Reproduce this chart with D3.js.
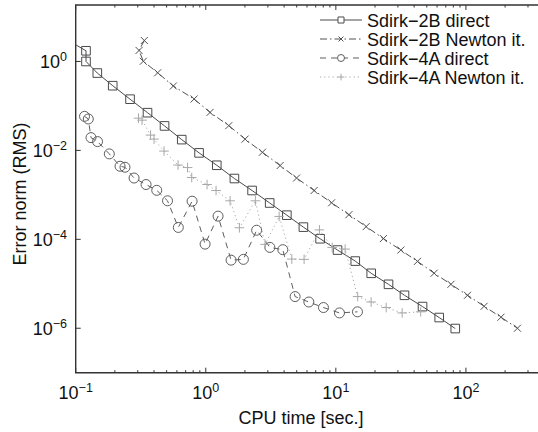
<!DOCTYPE html>
<html>
<head>
<meta charset="utf-8">
<script src="https://cdn.jsdelivr.net/npm/d3@7"></script>
<style>
  body { margin: 0; background: #fff; }
  svg { display: block; font-family: "Liberation Sans", Arial, sans-serif; }
</style>
</head>
<body>
<svg class="chart"></svg>
<script>
// CPU time [sec.] against RMS error norm for the four solver variants
var sdirk2bDirectTime = [0.08, 0.120, 0.120, 0.1466, 0.1926, 0.2617, 0.3566, 0.482, 0.6535, 0.888, 1.215, 1.66, 2.27, 3.10, 4.20, 5.63, 7.57, 10.3, 14.1, 18.7, 25.4, 33.7, 46.4, 62.3, 82.8];
var sdirk2bDirectErr = [3.46, 1.74, 1.0, 0.549, 0.285, 0.1418, 0.0705, 0.0355, 0.01747, 0.00879, 0.00463, 0.00233, 0.001253, 6.56e-4, 3.49e-4, 1.88e-4, 1.03e-4, 5.73e-5, 3.24e-5, 1.72e-5, 9.72e-6, 5.51e-6, 3.07e-6, 1.74e-6, 9.84e-7];

var sdirk2bNewtonTime = [0.337, 0.307, 0.331, 0.427, 0.563, 0.813, 1.079, 1.503, 2.006, 2.725, 3.73, 4.99, 6.81, 9.28, 12.6, 17.1, 23.2, 31.6, 42.4, 57.0, 76.7, 102.8, 138, 186, 249];
var sdirk2bNewtonErr = [2.96, 1.77, 1.01, 0.557, 0.2805, 0.1432, 0.0716, 0.0360, 0.01794, 0.00906, 0.00456, 0.00239, 0.001253, 6.63e-4, 3.58e-4, 1.93e-4, 1.04e-4, 5.73e-5, 3.19e-5, 1.73e-5, 9.72e-6, 5.51e-6, 3.12e-6, 1.77e-6, 1.0e-6];

var sdirk4aDirectTime = [0.1169, 0.125, 0.1311, 0.1472, 0.1813, 0.2192, 0.2393, 0.281, 0.3474, 0.4198, 0.508, 0.615, 0.785, 0.988, 1.243, 1.565, 1.946, 2.46, 3.11, 3.91, 4.86, 6.20, 8.03, 10.66, 14.66];
var sdirk4aDirectErr = [0.0583, 0.0509, 0.01937, 0.01577, 0.00834, 0.00440, 0.00418, 0.00239, 0.001707, 0.001265, 7.35e-4, 1.85e-4, 7.20e-4, 7.80e-5, 3.32e-4, 3.40e-5, 3.54e-5, 1.60e-4, 6.58e-5, 5.85e-5, 5.15e-6, 3.89e-6, 2.92e-6, 2.21e-6, 2.34e-6];

var sdirk4aNewtonTime = [0.3041, 0.3236, 0.3762, 0.4002, 0.4777, 0.612, 0.7244, 0.78, 1.023, 1.2, 1.538, 1.814, 2.407, 2.858, 3.664, 4.586, 5.70, 7.48, 9.37, 11.79, 14.72, 18.68, 24.38, 32.36, 44.9];
var sdirk4aNewtonErr = [0.0531, 0.0479, 0.02206, 0.01794, 0.00965, 0.00468, 0.00411, 0.00245, 0.001707, 0.001253, 7.35e-4, 1.82e-4, 7.35e-4, 7.69e-5, 3.27e-4, 3.59e-5, 3.54e-5, 1.63e-4, 6.58e-5, 6.03e-5, 5.15e-6, 3.89e-6, 2.92e-6, 2.21e-6, 2.34e-6];

var seriesNames = ["Sdirk\u22122B direct", "Sdirk\u22122B Newton it.", "Sdirk\u22124A direct", "Sdirk\u22124A Newton it."];
var xTickExponents = [-1, 0, 1, 2];
var yTickExponents = [0, -2, -4, -6];

var width = 538, height = 432;
var plot = { left: 75.7, right: 596, top: 5, bottom: 372.7 };

var series = [
  { name: seriesNames[0], time: sdirk2bDirectTime, err: sdirk2bDirectErr, marker: "square", color: "#4a4a4a", dash: null },
  { name: seriesNames[1], time: sdirk2bNewtonTime, err: sdirk2bNewtonErr, marker: "cross", color: "#505050", dash: "7,3,1.5,3" },
  { name: seriesNames[2], time: sdirk4aDirectTime, err: sdirk4aDirectErr, marker: "circle", color: "#5e5e5e", dash: "6,5" },
  { name: seriesNames[3], time: sdirk4aNewtonTime, err: sdirk4aNewtonErr, marker: "plus", color: "#a8a8a8", dash: "1.2,3" }
];

var x = d3.scaleLog().domain([0.1, 1000]).range([plot.left, plot.right]);
var y = d3.scaleLog().domain([1e-7, Math.pow(10, 1.27)]).range([plot.bottom, plot.top]);

function markerPath(type, s) {
  switch (type) {
    case "square": return "M" + (-s) + "," + (-s) + "h" + (2 * s) + "v" + (2 * s) + "h" + (-2 * s) + "Z";
    case "circle": return "M" + s + ",0A" + s + "," + s + " 0 1,1 " + (-s) + ",0A" + s + "," + s + " 0 1,1 " + s + ",0Z";
    case "cross": return "M" + (-s) + "," + (-s) + "L" + s + "," + s + "M" + (-s) + "," + s + "L" + s + "," + (-s);
    case "plus": return "M" + (-s) + ",0H" + s + "M0," + (-s) + "V" + s;
  }
}
var markerSize = { square: 4.3, circle: 5, cross: 3.5, plus: 4.8 };

var svg = d3.select(".chart").attr("width", width).attr("height", height);

svg.append("defs").append("clipPath").attr("id", "plot-clip")
  .append("rect")
  .attr("x", plot.left).attr("y", plot.top)
  .attr("width", plot.right - plot.left).attr("height", plot.bottom - plot.top);

// ticks, drawn inward on bottom/top and left
var minorX = [];
[0.1, 1, 10, 100].forEach(function(d) { for (var k = 2; k <= 9; k++) minorX.push(d * k); });

var ticks = svg.append("g").attr("stroke", "#333").attr("stroke-width", 1);
xTickExponents.forEach(function(e) {
  var px = x(Math.pow(10, e));
  ticks.append("line").attr("x1", px).attr("x2", px).attr("y1", plot.bottom).attr("y2", plot.bottom - 5);
  ticks.append("line").attr("x1", px).attr("x2", px).attr("y1", plot.top).attr("y2", plot.top + 5);
});
minorX.forEach(function(v) {
  var px = x(v);
  ticks.append("line").attr("x1", px).attr("x2", px).attr("y1", plot.bottom).attr("y2", plot.bottom - 2.5);
  ticks.append("line").attr("x1", px).attr("x2", px).attr("y1", plot.top).attr("y2", plot.top + 2.5);
});
yTickExponents.forEach(function(e) {
  var py = y(Math.pow(10, e));
  ticks.append("line").attr("x1", plot.left).attr("x2", plot.left + 5).attr("y1", py).attr("y2", py);
});

// frame (right edge falls outside the visible area)
svg.append("path")
  .attr("d", "M" + plot.right + "," + plot.top + "H" + plot.left + "V" + plot.bottom + "H" + plot.right)
  .attr("fill", "none").attr("stroke", "#333").attr("stroke-width", 1.4);

// tick labels as 10 with a raised exponent
var xLabels = svg.append("g").attr("fill", "#111").attr("font-size", 18);
xTickExponents.forEach(function(e) {
  var t = xLabels.append("text").attr("x", x(Math.pow(10, e))).attr("y", 399).attr("text-anchor", "middle");
  t.append("tspan").text("10");
  t.append("tspan").attr("dy", -7).attr("font-size", 12.5).text(String(e).replace("-", "\u2212"));
});
var yLabels = svg.append("g").attr("fill", "#111").attr("font-size", 18);
yTickExponents.forEach(function(e) {
  var t = yLabels.append("text").attr("x", 67).attr("y", y(Math.pow(10, e)) + 6.5).attr("text-anchor", "end");
  t.append("tspan").text("10");
  t.append("tspan").attr("dy", -7).attr("font-size", 12.5).text(String(e).replace("-", "\u2212"));
});

svg.append("text").attr("x", 301).attr("y", 424).attr("text-anchor", "middle")
  .attr("font-size", 18).attr("fill", "#111").text("CPU time [sec.]");
svg.append("text").attr("transform", "translate(26,194) rotate(-90)").attr("text-anchor", "middle")
  .attr("font-size", 18).attr("fill", "#111").text("Error norm (RMS)");

// data series
var line = d3.line().x(function(d) { return x(d[0]); }).y(function(d) { return y(d[1]); });
var plotArea = svg.append("g").attr("clip-path", "url(#plot-clip)");

series.forEach(function(s) {
  var pts = s.time.map(function(t, i) { return [t, s.err[i]]; });
  plotArea.append("path").datum(pts)
    .attr("d", line).attr("fill", "none")
    .attr("stroke", s.color).attr("stroke-width", 1)
    .attr("stroke-dasharray", s.dash);
  plotArea.append("g").selectAll("path").data(pts).join("path")
    .attr("transform", function(d) { return "translate(" + x(d[0]) + "," + y(d[1]) + ")"; })
    .attr("d", markerPath(s.marker, markerSize[s.marker]))
    .attr("fill", "none").attr("stroke", s.color).attr("stroke-width", 1);
});

// legend
var legend = svg.append("g").attr("font-size", 18).attr("fill", "#111");
series.forEach(function(s, i) {
  var ly = 20 + i * 19;
  var row = legend.append("g").attr("transform", "translate(0," + ly + ")");
  row.append("line").attr("x1", 320).attr("x2", 362).attr("y1", 0).attr("y2", 0)
    .attr("stroke", s.color).attr("stroke-width", 1).attr("stroke-dasharray", s.dash);
  row.append("path").attr("transform", "translate(341,0)")
    .attr("d", markerPath(s.marker, markerSize[s.marker] * 0.7))
    .attr("fill", "#fff").attr("stroke", s.color).attr("stroke-width", 1);
  row.append("text").attr("x", 367).attr("y", 6.5).text(s.name);
});
</script>
</body>
</html>
